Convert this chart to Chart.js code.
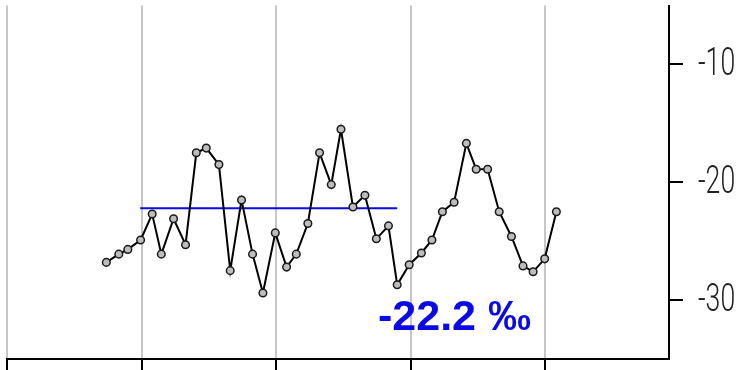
<!DOCTYPE html>
<html>
<head>
<meta charset="utf-8">
<title>Isotope record</title>
<script src="https://cdn.jsdelivr.net/npm/chart.js@4/dist/chart.umd.min.js"></script>
<style>
  html, body { margin: 0; padding: 0; background: #ffffff; }
  #wrap { position: relative; width: 743px; height: 370px; }
</style>
</head>
<body>
<div id="wrap"><canvas id="c" width="743" height="370"></canvas></div>
<script>
// Sample positions along the record and the measured values (‰)
const xs = [73.8, 83.1, 89.8, 99.3, 107.9, 114.7, 123.8, 132.7, 140.7, 148.1,
            157.5, 165.9, 174.3, 182.5, 190.2, 199.4, 207.8, 215.0, 223.6, 232.3,
            241.0, 248.2, 257.1, 266.0, 274.5, 283.5, 290.0, 298.9, 308.0, 315.8,
            323.6, 332.3, 341.4, 348.7, 357.2, 365.8, 374.9, 383.5, 391.0, 399.6,
            408.3];
const values = [-26.8, -26.1, -25.7, -24.9, -22.7, -26.1, -23.1, -25.3, -17.5, -17.1,
                -18.5, -27.5, -21.5, -26.1, -29.4, -24.3, -27.2, -26.1, -23.5, -17.5,
                -20.2, -15.5, -22.1, -21.1, -24.8, -23.7, -28.7, -27.0, -26.0, -24.9,
                -22.5, -21.7, -16.7, -18.9, -18.9, -22.5, -24.6, -27.1, -27.6, -26.5,
                -22.5];

// Mean value and the interval it covers
const meanValue = -22.2;
const meanSpan = [99, 290];

// Axis tick values
const yTicks = [-10, -20, -30];
const xGrid = [0, 100, 200, 300, 400];

const series = xs.map((x, i) => ({ x: x, y: values[i] }));
const meanLine = meanSpan.map(x => ({ x: x, y: meanValue }));

// Draws the right-hand tick labels in a narrow face, plus the mean label
const labelPlugin = {
  id: 'labels',
  afterDraw(chart) {
    const ctx = chart.ctx;
    const y = chart.scales.y;
    const area = chart.chartArea;
    ctx.save();
    ctx.fillStyle = '#222222';
    ctx.font = '300 38px Roboto, "Liberation Sans", Arial, sans-serif';
    ctx.textBaseline = 'middle';
    ctx.textAlign = 'left';
    yTicks.forEach(v => {
      const py = y.getPixelForValue(v);
      ctx.save();
      ctx.translate(area.right + 29, py + 1);
      ctx.scale(0.7, 1);
      ctx.fillText(String(v), 0, 0);
      ctx.restore();
    });
    ctx.fillStyle = '#0a0ae6';
    ctx.font = 'bold 43px "Liberation Sans", Arial, sans-serif';
    ctx.textBaseline = 'alphabetic';
    ctx.fillText(meanValue.toFixed(1) + ' ‰', area.left + 371, area.bottom - 29);
    ctx.restore();
  }
};

new Chart(document.getElementById('c'), {
  type: 'line',
  data: {
    datasets: [
      {
        data: series,
        borderColor: '#000000',
        borderWidth: 2,
        tension: 0,
        pointRadius: 3.8,
        pointBorderWidth: 1.5,
        pointBackgroundColor: '#bdbdbd',
        pointBorderColor: '#1a1a1a'
      },
      {
        data: meanLine,
        borderColor: '#0a0ae6',
        borderWidth: 2,
        pointRadius: 0,
        tension: 0
      }
    ]
  },
  options: {
    responsive: false,
    animation: false,
    events: [],
    layout: { padding: { left: 7, right: 60, top: 5, bottom: 0 } },
    plugins: { legend: { display: false }, tooltip: { enabled: false } },
    scales: {
      x: {
        type: 'linear',
        min: 0,
        max: 492,
        afterBuildTicks(scale) { scale.ticks = xGrid.map(v => ({ value: v })); },
        ticks: { display: false },
        grid: {
          color: '#c6c6c6',
          lineWidth: 2,
          drawTicks: true,
          tickLength: 11,
          tickColor: '#000000',
          tickWidth: 2
        },
        border: { display: true, color: '#000000', width: 2 }
      },
      y: {
        type: 'linear',
        position: 'right',
        min: -35,
        max: -5,
        afterBuildTicks(scale) { scale.ticks = yTicks.map(v => ({ value: v })); },
        ticks: { display: false },
        grid: {
          drawOnChartArea: false,
          drawTicks: true,
          tickLength: 14,
          tickColor: '#000000',
          tickWidth: 2,
          lineWidth: 2
        },
        border: { display: true, color: '#000000', width: 2 }
      }
    }
  },
  plugins: [labelPlugin]
});
</script>
</body>
</html>
